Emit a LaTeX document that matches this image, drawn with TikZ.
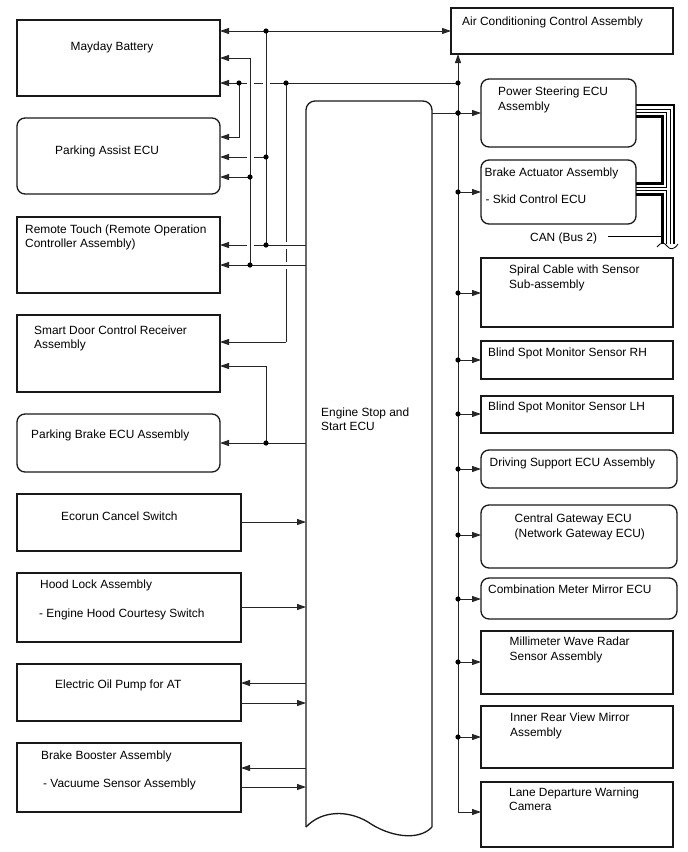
\documentclass[tikz,border=0pt]{standalone}
\usepackage{fontspec}
\setmainfont{Liberation Sans}
\usetikzlibrary{arrows.meta,fit}
\begin{document}
\begin{tikzpicture}[x=1pt,y=-1pt,
  box/.style={draw=black!90, line width=1.3pt, inner sep=0pt, outer sep=0pt},
  rbox/.style={box, rounded corners=8pt},
  conn/.style={draw=black!85, line width=0.9pt},
  arr/.style={conn, -{Triangle[length=9pt,width=6pt]}},
  darr/.style={conn, {Triangle[length=9pt,width=6pt]}-{Triangle[length=9pt,width=6pt]}},
  txt/.style={font=\fontsize{11.9}{14.5}\selectfont, inner sep=0pt, anchor=base west, align=left},
  can/.style={line width=2.8pt, black},
  canthin/.style={line width=1pt, black},
]
\useasboundingbox (0,0) rectangle (688,852);

% ---------- boxes ----------
\node[box,  fit={(17,20) (220,96)}]   (mayday) {};
\node[rbox, fit={(17,118) (220,194)}] (pa) {};
\node[box,  fit={(17,217) (220,293)}] (rt) {};
\node[box,  fit={(17,315) (220,392)}] (sd) {};
\node[rbox, fit={(17,414) (220,472)}] (pb) {};
\node[box,  fit={(17,494) (241,551)}] (eco) {};
\node[box,  fit={(17,573) (241,642)}] (hood) {};
\node[box,  fit={(17,664) (241,721)}] (oil) {};
\node[box,  fit={(17,743) (241,812)}] (bb) {};
\node[box,  fit={(451,8) (673,54)}]   (ac) {};
\node[rbox, fit={(481,79) (636,147)}] (ps) {};
\node[rbox, fit={(481,160) (636,224)}] (ba) {};
\node[box,  fit={(481,258) (673,327)}] (sc) {};
\node[box,  fit={(481,341) (673,379)}] (rh) {};
\node[box,  fit={(481,396) (673,433)}] (lh) {};
\node[rbox, fit={(481,450) (677,488)}] (ds) {};
\node[rbox, fit={(481,505) (677,568)}] (cg) {};
\node[rbox, fit={(481,578) (677,619)}] (cm) {};
\node[box,  fit={(481,631) (673,694)}] (mw) {};
\node[box,  fit={(481,706) (673,768)}] (ir) {};
\node[box,  fit={(481,782) (673,847)}] (ld) {};
\node[fit={(306,101) (432,827)}, inner sep=0pt, outer sep=0pt] (ecu) {};

% engine ECU outline with wavy bottom
\draw[box, rounded corners=9pt] (ecu.south west) -- (ecu.north west) -- (ecu.north east) -- (ecu.south east);
\draw[box] (ecu.south west) .. controls (322,810) and (348,810) .. (368,822)
           .. controls (388,836) and (418,842) .. (ecu.south east);

% ---------- texts (base = baseline of last line) ----------
\node[txt, anchor=base] (tmayday) at (112,50.5) {Mayday Battery};
\node[txt] (tpa)   at (55,154.5) {Parking Assist ECU};
\node[txt] (trt)   at (25,247.5) {Remote Touch (Remote Operation\\Controller Assembly)};
\node[txt] (tsd)   at (34,348.5) {Smart Door Control Receiver\\Assembly};
\node[txt] (tpb)   at (31,438.5) {Parking Brake ECU Assembly};
\node[txt] (teco)  at (61,520) {Ecorun Cancel Switch};
\node[txt] (thood1) at (40,588.5) {Hood Lock Assembly};
\node[txt] (thood2) at (39,617) {- Engine Hood Courtesy Switch};
\node[txt] (toil)  at (55,688) {Electric Oil Pump for AT};
\node[txt] (tbb1)  at (41,759.5) {Brake Booster Assembly};
\node[txt] (tbb2)  at (43,787.5) {- Vacuume Sensor Assembly};
\node[txt] (tecu)  at (321,430.5) {Engine Stop and\\Start ECU};
\node[txt] (tac)   at (462,25.5) {Air Conditioning Control Assembly};
\node[txt] (tps)   at (498,110) {Power Steering ECU\\Assembly};
\node[txt] (tba1)  at (484.5,176.8) {Brake Actuator Assembly};
\node[txt] (tba2)  at (485.5,203.8) {- Skid Control ECU};
\node[txt] (tcan)  at (530,241.8) {CAN (Bus 2)};
\node[txt] (tsc)   at (509,288) {Spiral Cable with Sensor\\Sub-assembly};
\node[txt] (trh)   at (488,356) {Blind Spot Monitor Sensor RH};
\node[txt] (tlh)   at (488,410.5) {Blind Spot Monitor Sensor LH};
\node[txt] (tds)   at (489.5,466.8) {Driving Support ECU Assembly};
\node[txt] (tcg)   at (514.5,537) {Central Gateway ECU\\(Network Gateway ECU)};
\node[txt] (tcm)   at (488,593.5) {Combination Meter Mirror ECU};
\node[txt] (tmw)   at (509.5,660) {Millimeter Wave Radar\\Sensor Assembly};
\node[txt] (tir)   at (510,736) {Inner Rear View Mirror\\Assembly};
\node[txt] (tld)   at (509,810.5) {Lane Departure Warning\\Camera};

% ---------- junction coordinates ----------
\coordinate (bus83) at (458,83);
\coordinate (busB) at (458,812);

% ---------- right bus ----------
\draw[arr] (busB) -- (busB |- ac.south);
\draw[arr] (busB) -- (ld.west |- busB);
\foreach \b/\y in {ps/113, ba/192, sc/293, rh/360, lh/414, ds/469, cg/535, cm/599, mw/662, ir/737}{
  \draw[arr] (458,\y) -- (\b.west |- 458,\y);
  \fill (458,\y) circle (2.6pt);
}
\draw[conn] (ecu.east |- 0,113) -- (458,113);

% ---------- left wiring ----------
\draw[darr] (mayday.east |- 0,31) -- (ac.west |- 0,31);
\draw[arr] (bus83) -- (mayday.east |- bus83);
\draw[arr] (266,157) -- (pa.east |- 0,157);
\draw[conn] (286,83) -- (286,342);
\draw[arr] (286,342) -- (sd.east |- 0,342);
\draw[arr] (ecu.west |- 0,245) -- (rt.east |- 0,245);
\draw[arr] (ecu.west |- 0,265) -- (rt.east |- 0,265);
\draw[conn] (266,31) -- (266,245);
\draw[conn] (250,265) -- (250,58);
\draw[arr] (250,58) -- (mayday.east |- 0,58);
\draw[arr] (250,177) -- (pa.east |- 0,177);
\draw[arr] (239,83) -- (239,137) -- (pa.east |- 0,137);
\draw[arr] (ecu.west |- 0,443) -- (pb.east |- 0,443);
\draw[arr] (266,443) -- (266,366) -- (sd.east |- 0,366);

% line hops (horizontal broken, vertical continuous)
\foreach \x/\y in {250/83, 266/83, 250/157, 250/245}{
  \fill[white] (\x-3.5,\y-1.5) rectangle (\x+3.5,\y+1.5);
  \draw[conn] (\x,\y-4) -- (\x,\y+4);
}
% line hops (vertical broken, horizontal continuous)
\foreach \x/\y in {286/245, 286/265}{
  \fill[white] (\x-1.5,\y-3.5) rectangle (\x+1.5,\y+3.5);
  \draw[conn] (\x-4,\y) -- (\x+4,\y);
}

% junction dots
\foreach \x/\y in {266/31, 266/157, 266/245, 250/177, 250/265, 239/83, 286/83, 458/83, 458/113, 266/443}{
  \fill (\x,\y) circle (2.6pt);
}

% ---------- lower left connectors ----------
\draw[arr] (eco.east |- 0,522) -- (ecu.west |- 0,522);
\draw[arr] (hood.east |- 0,607) -- (ecu.west |- 0,607);
\draw[arr] (ecu.west |- 0,683) -- (oil.east |- 0,683);
\draw[arr] (oil.east |- 0,703) -- (ecu.west |- 0,703);
\draw[arr] (ecu.west |- 0,768) -- (bb.east |- 0,768);
\draw[arr] (bb.east |- 0,787) -- (ecu.west |- 0,787);

% ---------- CAN bus bundle ----------
\draw[can] (ps.east |- 0,105) -- (674,105) -- (674,244);
\draw[canthin] (ps.east |- 0,109) -- (670,109) -- (670,244);
\draw[canthin] (ps.east |- 0,112.5) -- (666.5,112.5) -- (666.5,187.5) -- (ba.east |- 0,187.5);
\draw[can] (ps.east |- 0,116.5) -- (662.5,116.5) -- (662.5,183.5) -- (ba.east |- 0,183.5);
\draw[canthin] (ba.east |- 0,190.5) -- (666.5,190.5) -- (666.5,244);
\draw[can] (ba.east |- 0,194.5) -- (662.5,194.5) -- (662.5,244);
\draw[line width=0.8pt] (657,247) .. controls (661,242) and (664,242) .. (667,246)
      .. controls (670,250) and (674,250) .. (678,244);
\draw[line width=0.8pt] (608,236) -- (661,236);
\end{tikzpicture}
\end{document}
